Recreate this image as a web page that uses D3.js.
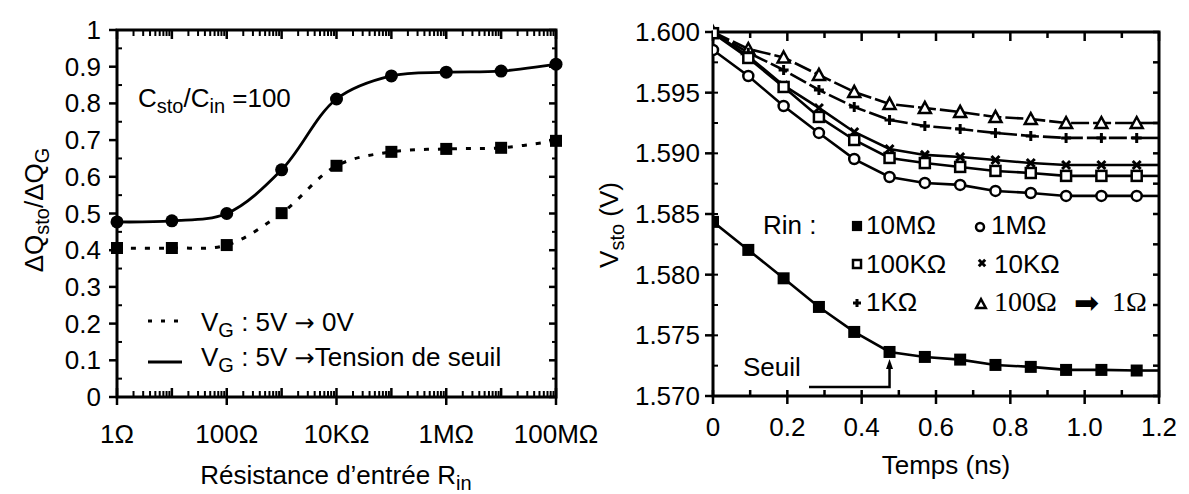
<!DOCTYPE html>
<html><head><meta charset="utf-8">
<script src="https://cdn.jsdelivr.net/npm/d3@7"></script>
<style>
body{margin:0;background:#fff;}
svg{font-family:"Liberation Sans",Arial,sans-serif;}
</style></head>
<body><svg id="c" width="1189" height="494"></svg>
<script>
// ---------- data: left chart ----------
const resCats = [1,10,100,1e3,1e4,1e5,1e6,1e7,1e8];
const ratioSeuil = [0.477,0.48,0.50,0.619,0.812,0.875,0.885,0.888,0.907];
const ratio0V = [0.406,0.406,0.414,0.501,0.63,0.668,0.676,0.679,0.698];
const leftYTicks = [0,0.1,0.2,0.3,0.4,0.5,0.6,0.7,0.8,0.9,1];
const leftYTickLabels = ["0","0.1","0.2","0.3","0.4","0.5","0.6","0.7","0.8","0.9","1"];
const leftXTicks = [1,100,1e4,1e6,1e8];
const leftXTickLabels = ["1Ω","100Ω","10KΩ","1MΩ","100MΩ"];
// ---------- data: right chart ----------
const times = [0,0.095,0.19,0.285,0.38,0.475,0.57,0.665,0.76,0.855,0.95,1.045,1.14];
const v10M = [1.58435,1.58204,1.5797,1.57734,1.57528,1.57363,1.57322,1.5730,1.57256,1.5724,1.57215,1.57215,1.5721];
const v1M = [1.59852,1.59637,1.5939,1.59168,1.58953,1.58805,1.58756,1.5874,1.5869,1.58673,1.58649,1.58649,1.58649];
const v100K = [1.5999,1.59786,1.59547,1.593,1.5911,1.58962,1.5892,1.58888,1.58855,1.58838,1.58814,1.58814,1.58814];
const v10K = [1.6000,1.5980,1.5956,1.59374,1.59176,1.59036,1.58987,1.5897,1.58945,1.5892,1.58904,1.58904,1.58904];
const v1K = [1.6000,1.5983,1.59687,1.59522,1.59382,1.59275,1.59225,1.592,1.59168,1.59143,1.59127,1.59127,1.59127];
const v100 = [1.6000,1.5986,1.5979,1.59646,1.59506,1.59407,1.59374,1.59341,1.593,1.59283,1.5925,1.5925,1.5925];
const rightXTicks = [0,0.2,0.4,0.6,0.8,1.0,1.2];
const rightXTickLabels = ["0","0.2","0.4","0.6","0.8","1.0","1.2"];
const rightYTicks = [1.570,1.575,1.580,1.585,1.590,1.595,1.600];
const rightYTickLabels = ["1.570","1.575","1.580","1.585","1.590","1.595","1.600"];
const seuilIndex = 5;

const svg = d3.select("#c");
svg.append("rect").attr("width",1189).attr("height",494).attr("fill","#fff");
const FS = 26, SUB = 20;

// ================= LEFT CHART =================
const xL = d3.scaleLog().domain([1,1e8]).range([117,556]);
const yL = d3.scaleLinear().domain([0,1]).range([397,30]);
const gL = svg.append("g");

const minorLog = [];
for (let e=0;e<8;e++) for (let m=2;m<=9;m++) minorLog.push(m*Math.pow(10,e));
const decades = d3.range(0,9).map(e=>Math.pow(10,e));
gL.selectAll(".mt").data(minorLog).join("line")
  .attr("x1",d=>xL(d)).attr("x2",d=>xL(d)).attr("y1",30).attr("y2",36)
  .attr("stroke","#000").attr("stroke-width",2);
gL.selectAll(".mb").data(minorLog).join("line")
  .attr("x1",d=>xL(d)).attr("x2",d=>xL(d)).attr("y1",397).attr("y2",391)
  .attr("stroke","#000").attr("stroke-width",2);
gL.selectAll(".Mt").data(decades).join("line")
  .attr("x1",d=>xL(d)).attr("x2",d=>xL(d)).attr("y1",30).attr("y2",39)
  .attr("stroke","#000").attr("stroke-width",2.5);
gL.selectAll(".Mb").data(decades).join("line")
  .attr("x1",d=>xL(d)).attr("x2",d=>xL(d)).attr("y1",388).attr("y2",397)
  .attr("stroke","#000").attr("stroke-width",2.5);
gL.selectAll(".Mbo").data(leftXTicks).join("line")
  .attr("x1",d=>xL(d)).attr("x2",d=>xL(d)).attr("y1",397).attr("y2",405)
  .attr("stroke","#000").attr("stroke-width",2.5);
const leftMinorY = d3.range(0.05,1,0.1);
gL.selectAll(".yl").data(leftYTicks).join("line")
  .attr("x1",109).attr("x2",117).attr("y1",d=>yL(d)).attr("y2",d=>yL(d))
  .attr("stroke","#000").attr("stroke-width",2.5);
gL.selectAll(".ylm").data(leftMinorY).join("line")
  .attr("x1",117).attr("x2",122).attr("y1",d=>yL(d)).attr("y2",d=>yL(d))
  .attr("stroke","#000").attr("stroke-width",2);
gL.selectAll(".yr").data(leftYTicks).join("line")
  .attr("x1",549).attr("x2",556).attr("y1",d=>yL(d)).attr("y2",d=>yL(d))
  .attr("stroke","#000").attr("stroke-width",2.5);
gL.selectAll(".yrm").data(leftMinorY).join("line")
  .attr("x1",552).attr("x2",556).attr("y1",d=>yL(d)).attr("y2",d=>yL(d))
  .attr("stroke","#000").attr("stroke-width",2);
gL.append("rect").attr("x",117).attr("y",30).attr("width",556-117).attr("height",397-30)
  .attr("fill","none").attr("stroke","#000").attr("stroke-width",3);
gL.selectAll(".ylab").data(leftYTicks).join("text")
  .attr("x",101).attr("y",d=>yL(d)+9).attr("text-anchor","end")
  .attr("font-size",FS).text((d,i)=>leftYTickLabels[i]);
gL.selectAll(".xlab").data(leftXTicks).join("text")
  .attr("x",d=>xL(d)).attr("y",443).attr("text-anchor","middle")
  .attr("font-size",FS).text((d,i)=>leftXTickLabels[i]);
const xt = gL.append("text").attr("x",336).attr("y",484).attr("text-anchor","middle").attr("font-size",FS);
xt.append("tspan").text("Résistance d’entrée R");
xt.append("tspan").attr("font-size",SUB).attr("dy",6).text("in");
const yt = gL.append("text").attr("transform","translate(43,210) rotate(-90)").attr("text-anchor","middle").attr("font-size",FS);
yt.append("tspan").text("ΔQ");
yt.append("tspan").attr("font-size",SUB).attr("dy",6).text("sto");
yt.append("tspan").attr("dy",-6).text("/ΔQ");
yt.append("tspan").attr("font-size",SUB).attr("dy",6).text("G");
const an = gL.append("text").attr("x",138).attr("y",107).attr("font-size",FS);
an.append("tspan").text("C");
an.append("tspan").attr("font-size",SUB).attr("dy",6).text("sto");
an.append("tspan").attr("dy",-6).text("/C");
an.append("tspan").attr("font-size",SUB).attr("dy",6).text("in");
an.append("tspan").attr("dy",-6).text(" =100");
const lineL = d3.line().x((d,i)=>xL(resCats[i])).y(d=>yL(d)).curve(d3.curveCatmullRom.alpha(0.5));
gL.append("path").attr("d",lineL(ratio0V)).attr("fill","none").attr("stroke","#000")
  .attr("stroke-width",3).attr("stroke-dasharray","5,9");
gL.append("path").attr("d",lineL(ratioSeuil)).attr("fill","none").attr("stroke","#000")
  .attr("stroke-width",2.8);
gL.selectAll(".sq").data(ratio0V).join("rect")
  .attr("x",(d,i)=>xL(resCats[i])-6).attr("y",d=>yL(d)-6).attr("width",12).attr("height",12).attr("fill","#000");
gL.selectAll(".ci").data(ratioSeuil).join("circle")
  .attr("cx",(d,i)=>xL(resCats[i])).attr("cy",d=>yL(d)).attr("r",6.5).attr("fill","#000");
gL.append("line").attr("x1",148).attr("x2",184).attr("y1",321).attr("y2",321)
  .attr("stroke","#000").attr("stroke-width",3).attr("stroke-dasharray","4,9");
gL.append("line").attr("x1",148).attr("x2",182).attr("y1",362).attr("y2",362)
  .attr("stroke","#000").attr("stroke-width",3);
const l1 = gL.append("text").attr("x",201).attr("y",331).attr("font-size",FS);
l1.append("tspan").text("V");
l1.append("tspan").attr("font-size",SUB).attr("dy",6).text("G");
l1.append("tspan").attr("dy",-6).text(" : 5V ");
l1.append("tspan").style("font-family","DejaVu Sans").attr("font-size",24).text("→");
l1.append("tspan").text(" 0V");
const l2 = gL.append("text").attr("x",201).attr("y",366).attr("font-size",FS);
l2.append("tspan").text("V");
l2.append("tspan").attr("font-size",SUB).attr("dy",6).text("G");
l2.append("tspan").attr("dy",-6).text(" : 5V ");
l2.append("tspan").style("font-family","DejaVu Sans").attr("font-size",24).text("→");
l2.append("tspan").text("Tension de seuil");

// ================= RIGHT CHART =================
const xR = d3.scaleLinear().domain([0,1.2]).range([713,1159]);
const yR = d3.scaleLinear().domain([1.570,1.600]).range([396,32]);
const gR = svg.append("g");
const X0=713,X1=1159,Y0=396,Y1=32;
const xMinor = d3.range(0,12.5).map(i=>i/10);
const yMinor = d3.range(0,13).map(i=>1.570+i*0.0025);
gR.selectAll(".tt").data(xMinor).join("line")
  .attr("x1",d=>xR(d)).attr("x2",d=>xR(d)).attr("y1",Y1).attr("y2",(d,i)=>i%2?Y1+6:Y1+9)
  .attr("stroke","#000").attr("stroke-width",2.5);
gR.selectAll(".bt").data(xMinor).join("line")
  .attr("x1",d=>xR(d)).attr("x2",d=>xR(d)).attr("y1",Y0-6).attr("y2",Y0)
  .attr("stroke","#000").attr("stroke-width",2.5);
gR.selectAll(".bto").data(rightXTicks).join("line")
  .attr("x1",d=>xR(d)).attr("x2",d=>xR(d)).attr("y1",Y0).attr("y2",Y0+8)
  .attr("stroke","#000").attr("stroke-width",2.5);
gR.selectAll(".lt").data(rightYTicks).join("line")
  .attr("x1",X0-8).attr("x2",X0).attr("y1",d=>yR(d)).attr("y2",d=>yR(d))
  .attr("stroke","#000").attr("stroke-width",2.5);
gR.selectAll(".ltm").data(yMinor).join("line")
  .attr("x1",X0).attr("x2",X0+5).attr("y1",d=>yR(d)).attr("y2",d=>yR(d))
  .attr("stroke","#000").attr("stroke-width",2);
gR.selectAll(".rt").data(yMinor).join("line")
  .attr("x1",X1-6).attr("x2",X1).attr("y1",d=>yR(d)).attr("y2",d=>yR(d))
  .attr("stroke","#000").attr("stroke-width",2.5);
gR.append("rect").attr("x",X0).attr("y",Y1).attr("width",X1-X0).attr("height",Y0-Y1)
  .attr("fill","none").attr("stroke","#000").attr("stroke-width",3);
gR.selectAll(".ylab").data(rightYTicks).join("text")
  .attr("x",700).attr("y",d=>yR(d)+9).attr("text-anchor","end")
  .attr("font-size",FS).text((d,i)=>rightYTickLabels[i]);
gR.selectAll(".xlab").data(rightXTicks).join("text")
  .attr("x",d=>xR(d)).attr("y",436).attr("text-anchor","middle")
  .attr("font-size",FS).text((d,i)=>rightXTickLabels[i]);
gR.append("text").attr("x",946).attr("y",474).attr("text-anchor","middle").attr("font-size",FS).text("Temps (ns)");
const vy = gR.append("text").attr("transform","translate(618,225) rotate(-90)").attr("text-anchor","middle").attr("font-size",FS);
vy.append("tspan").text("V");
vy.append("tspan").attr("font-size",SUB).attr("dy",6).text("sto");
vy.append("tspan").attr("dy",-6).text(" (V)");

gR.append("clipPath").attr("id","cr").append("rect")
  .attr("x",X0).attr("y",Y1-10).attr("width",X1-X0).attr("height",Y0-Y1+10);
const plot = gR.append("g").attr("clip-path","url(#cr)");
const lineR = d3.line().x((d,i)=>xR(times[i])).y(d=>yR(d));
const seriesDefs = [
  {v:v100, dash:"18,4", m:"tri"},
  {v:v1K, dash:"18,4", m:"plus"},
  {v:v10K, dash:null, m:"x"},
  {v:v100K, dash:null, m:"osq"},
  {v:v1M, dash:null, m:"oci"},
  {v:v10M, dash:null, m:"fsq"}
];
function marker(g, type, cx, cy, s){
  s = s||1;
  if(type==="fsq") g.append("rect").attr("x",cx-6*s).attr("y",cy-6*s).attr("width",12*s).attr("height",12*s).attr("fill","#000");
  else if(type==="osq") g.append("rect").attr("x",cx-5*s).attr("y",cy-5*s).attr("width",10*s).attr("height",10*s).attr("fill","#fff").attr("stroke","#000").attr("stroke-width",2.5);
  else if(type==="oci") g.append("circle").attr("cx",cx).attr("cy",cy).attr("r",5*s).attr("fill","#fff").attr("stroke","#000").attr("stroke-width",2.5);
  else if(type==="tri") g.append("path").attr("d",`M${cx},${cy-6*s}L${cx+6*s},${cy+5*s}L${cx-6*s},${cy+5*s}Z`).attr("fill","#fff").attr("stroke","#000").attr("stroke-width",2.5);
  else if(type==="plus") g.append("path").attr("d",`M${cx-5*s},${cy}H${cx+5*s}M${cx},${cy-5*s}V${cy+5*s}`).attr("stroke","#000").attr("stroke-width",3);
  else if(type==="x") g.append("path").attr("d",`M${cx-4*s},${cy-4*s}L${cx+4*s},${cy+4*s}M${cx+4*s},${cy-4*s}L${cx-4*s},${cy+4*s}`).attr("stroke","#000").attr("stroke-width",3);
}
seriesDefs.forEach(sd=>{
  const p = plot.append("path").attr("d",lineR(sd.v)).attr("fill","none").attr("stroke","#000").attr("stroke-width",2.6);
  if(sd.dash) p.attr("stroke-dasharray",sd.dash);
});
seriesDefs.forEach(sd=>{
  plot.append("line").attr("x1",xR(times[times.length-1])).attr("x2",X1)
    .attr("y1",yR(sd.v[sd.v.length-1])).attr("y2",yR(sd.v[sd.v.length-1]))
    .attr("stroke","#000").attr("stroke-width",2.6);
});
seriesDefs.forEach(sd=>{
  sd.v.forEach((d,i)=>marker(plot, sd.m, xR(times[i]), yR(d)));
});
gR.append("text").attr("x",743).attr("y",376).attr("font-size",FS).text("Seuil");
const sx = xR(times[seuilIndex]), sy = yR(v10M[seuilIndex]);
gR.append("path").attr("d",`M809,387H${sx}V${sy+14}`).attr("fill","none").attr("stroke","#000").attr("stroke-width",2.5);
gR.append("path").attr("d",`M${sx},${sy+7}L${sx-3.5},${sy+17}L${sx+3.5},${sy+17}Z`).attr("fill","#000");
gR.append("text").attr("x",763).attr("y",234).attr("font-size",FS).text("Rin :");
const legItems = [
  {m:"fsq", x:857, y:226, tx:866, ty:234, label:"10MΩ", serif:false},
  {m:"oci", x:980, y:227, tx:991, ty:234, label:"1MΩ", serif:false},
  {m:"osq", x:857, y:264, tx:866, ty:273, label:"100KΩ", serif:false},
  {m:"x", x:982, y:263, tx:994, ty:273, label:"10KΩ", serif:false},
  {m:"plus", x:857, y:303, tx:866, ty:311, label:"1KΩ", serif:false},
  {m:"tri", x:981, y:304, tx:994, ty:311, label:"100Ω", serif:true}
];
legItems.forEach(li=>{
  marker(gR, li.m, li.x, li.y, li.m==="fsq"?0.85:0.8);
  const t = gR.append("text").attr("x",li.tx).attr("y",li.ty).attr("font-size",FS).text(li.label);
  if(li.serif) t.style("font-family","Liberation Serif").attr("font-size",28);
});
gR.append("text").attr("x",1074).attr("y",313).attr("font-size",30).style("font-family","DejaVu Sans").text("➡");
gR.append("text").attr("x",1112).attr("y",311).attr("font-size",28).style("font-family","Liberation Serif").text("1Ω");
</script></body></html>
